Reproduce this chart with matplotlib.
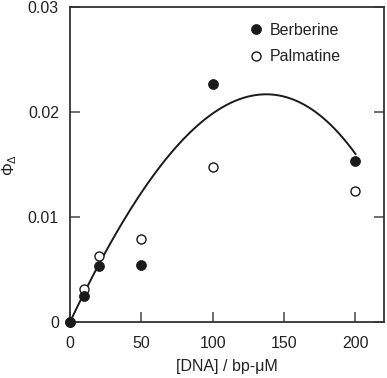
import matplotlib
matplotlib.use("Agg")
import matplotlib.pyplot as plt
import numpy as np

plt.rcParams['font.family'] = ['Liberation Sans', 'DejaVu Sans']
plt.rcParams['mathtext.fontset'] = 'custom'
plt.rcParams['mathtext.rm'] = 'Liberation Sans'
plt.rcParams['mathtext.it'] = 'Liberation Sans'

# Data
dna = [0, 10, 20, 50, 100, 200]
berberine = [0.0, 0.0025, 0.00536, 0.0054, 0.0227, 0.0153]
palmatine = [0.0, 0.00314, 0.00629, 0.00794, 0.0148, 0.0125]
# Fitted curve coefficients (cubic through origin): y = a*x + b*x^2 + c*x^3
fit_coef = [0.0002867, -7.286e-7, -1.5235e-9]
x_ticks = [0, 50, 100, 150, 200]
y_ticks = [0, 0.01, 0.02, 0.03]
y_ticklabels = ['0', '0.01', '0.02', '0.03']

fig = plt.figure(figsize=(3.87, 3.78), dpi=100)
ax = fig.add_axes([70/387, 1-322/378, (384-70)/387, (322-7)/378])

xs = np.linspace(0, 200, 200)
ys = fit_coef[0]*xs + fit_coef[1]*xs**2 + fit_coef[2]*xs**3
ax.plot(xs, ys, color='#1a1a1a', lw=1.4, zorder=2)

ax.plot(dna, palmatine, 'o', ms=6.5, mfc='white', mec='#1a1a1a', mew=1.0,
        label='Palmatine', clip_on=False, zorder=3)
ax.plot(dna, berberine, 'o', ms=7.2, mfc='#1a1a1a', mec='#1a1a1a', mew=0.5,
        label='Berberine', clip_on=False, zorder=4)

ax.set_xlim(0, 220)
ax.set_ylim(0, 0.03)
ax.set_xticks(x_ticks)
ax.set_yticks(y_ticks)
ax.set_yticklabels(y_ticklabels)

for s in ax.spines.values():
    s.set_color('#333333')
    s.set_linewidth(1.3)

ax.tick_params(axis='both', direction='in', length=7, width=1.2, color='#555555',
               labelsize=11.5, labelcolor='#222222')
ax.tick_params(axis='y', right=True, pad=8)
ax.tick_params(axis='x', pad=10)

ax.set_xlabel('[DNA] / bp-\u03bcM', fontsize=11.5, color='#222222', labelpad=6)
ax.set_ylabel(r'$\Phi_\Delta$', fontsize=11.5, color='#222222', labelpad=6)

h, l = ax.get_legend_handles_labels()
ax.legend([h[1], h[0]], [l[1], l[0]], loc='upper left', bbox_to_anchor=(0.515, 0.995),
          frameon=False, fontsize=11.5, handletextpad=0.3, labelspacing=0.7,
          handlelength=1.2, labelcolor='#222222')

fig.savefig('out.png', dpi=100)
